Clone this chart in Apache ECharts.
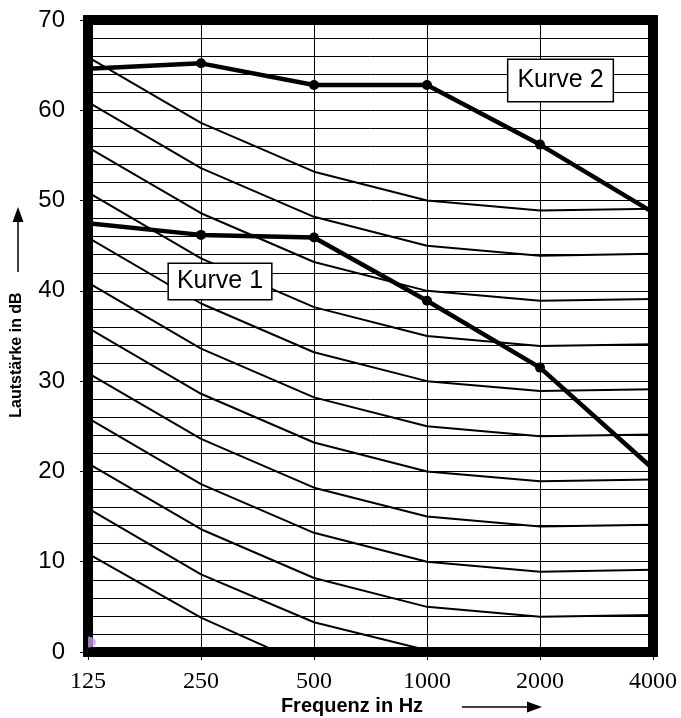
<!DOCTYPE html>
<html>
<head>
<meta charset="utf-8">
<script src="https://cdn.jsdelivr.net/npm/echarts@6/dist/echarts.min.js"></script>
<style>
html,body{margin:0;padding:0;background:#fff;}
#chart{width:681px;height:718px;}
</style>
</head>
<body>
<div id="chart"></div>
<script>
// Categories (frequency in Hz)
var frequencies = ['125', '250', '500', '1000', '2000', '4000'];

// Family of thin reference curves (dB)
var curve66 = [65.9, 58.6, 53.2, 50.0, 48.9, 49.1];
var curve61 = [60.9, 53.6, 48.2, 45.0, 43.9, 44.1];
var curve56 = [55.9, 48.6, 43.2, 40.0, 38.9, 39.1];
var curve51 = [50.9, 43.6, 38.2, 35.0, 33.9, 34.1];
var curve46 = [45.9, 38.6, 33.2, 30.0, 28.9, 29.1];
var curve41 = [40.9, 33.6, 28.2, 25.0, 23.9, 24.1];
var curve36 = [35.9, 28.6, 23.2, 20.0, 18.9, 19.1];
var curve31 = [30.9, 23.6, 18.2, 15.0, 13.9, 14.1];
var curve26 = [25.9, 18.6, 13.2, 10.0, 8.9, 9.1];
var curve21 = [20.9, 13.6, 8.2, 5.0, 3.9, 4.1];
var curve16 = [15.9, 8.6, 3.3, 0.2, -1.1, -0.9];
var curve11 = [10.9, 3.8, -1.8, -5.0, -6.1, -5.9];

// Highlighted measured curves (dB)
var kurve1 = [47.5, 46.2, 45.9, 38.9, 31.5, 20.3];
var kurve2 = [64.6, 65.2, 62.8, 62.8, 56.2, 48.7];

// Small stray marker at the lower-left corner
var strayMarker = [[0, 1.1]];

// Y axis range / label step
var yMin = 0, yMax = 70, yStep = 10;

var thinCurves = [curve66, curve61, curve56, curve51, curve46, curve41,
                  curve36, curve31, curve26, curve21, curve16, curve11];

var chart = echarts.init(document.getElementById('chart'), null, {renderer: 'canvas'});

var series = [];
thinCurves.forEach(function (c, i) {
  series.push({
    name: 'c' + i,
    type: 'line',
    data: c,
    symbol: 'none',
    smooth: false,
    clip: true,
    z: 3,
    lineStyle: {color: '#000', width: 2},
    silent: true
  });
});
function thick(name, arr) {
  return {
    name: name,
    type: 'line',
    data: arr.map(function (v, i) { return i === 0 ? {value: v, symbol: 'none'} : v; }),
    symbol: 'circle',
    symbolSize: 10,
    showAllSymbol: true,
    clip: false,
    z: 5,
    itemStyle: {color: '#000'},
    lineStyle: {color: '#000', width: 4.5}
  };
}
series.push(thick('Kurve 1', kurve1));
series.push(thick('Kurve 2', kurve2));
series.push({
  type: 'scatter',
  data: strayMarker,
  symbol: 'path://M0,0 A10,10 0 0,1 0,20 Z',
  symbolSize: [8, 11],
  symbolOffset: [4, 0],
  z: 10,
  clip: false,
  itemStyle: {color: '#c49bf6'}
});

var option = {
  backgroundColor: '#fff',
  animation: false,
  grid: {
    left: 88, right: 28, top: 20, bottom: 66,
    show: true, borderColor: '#000', borderWidth: 10, backgroundColor: 'transparent'
  },
  xAxis: {
    type: 'category',
    data: frequencies,
    boundaryGap: false,
    axisLine: {show: false},
    axisTick: {show: true, length: 8, lineStyle: {color: '#000'}},
    axisLabel: {
      margin: 18, color: '#000', fontSize: 24,
      fontFamily: '"Liberation Serif", "Times New Roman", serif'
    },
    splitLine: {show: true, lineStyle: {color: '#000', width: 1}}
  },
  yAxis: {
    type: 'value',
    min: yMin, max: yMax, interval: yStep,
    axisLine: {show: false},
    axisTick: {show: true, length: 8, lineStyle: {color: '#000'}},
    minorTick: {show: false, splitNumber: 5},
    minorSplitLine: {show: true, lineStyle: {color: '#000', width: 1}},
    axisLabel: {
      margin: 23, color: '#000', fontSize: 24,
      fontFamily: '"Liberation Sans", Arial, sans-serif'
    },
    splitLine: {show: true, lineStyle: {color: '#000', width: 1}}
  },
  series: series,
  graphic: [
    {
      type: 'text', z: 100,
      x: 17, y: 355, rotation: Math.PI / 2,
      style: {
        text: 'Lautstärke in dB', fill: '#000',
        font: 'bold 16px "Liberation Sans", Arial, sans-serif',
        align: 'center', verticalAlign: 'middle'
      }
    },
    {
      type: 'line', z: 100,
      shape: {x1: 18, y1: 272, x2: 18, y2: 218},
      style: {stroke: '#000', lineWidth: 1.5}
    },
    {
      type: 'polygon', z: 100,
      shape: {points: [[18, 207], [12.5, 222], [23.5, 222]]},
      style: {fill: '#000'}
    },
    {
      type: 'text', z: 100,
      x: 352, y: 706,
      style: {
        text: 'Frequenz in Hz', fill: '#000',
        font: 'bold 20px "Liberation Sans", Arial, sans-serif',
        align: 'center', verticalAlign: 'middle'
      }
    },
    {
      type: 'line', z: 100,
      shape: {x1: 462, y1: 707, x2: 530, y2: 707},
      style: {stroke: '#000', lineWidth: 1.5}
    },
    {
      type: 'polygon', z: 100,
      shape: {points: [[542, 707], [527, 701.5], [527, 712.5]]},
      style: {fill: '#000'}
    },
    {
      type: 'text', z: 100,
      x: 220, y: 281.5,
      style: {
        text: 'Kurve 1', fill: '#000',
        font: '25px "Liberation Sans", Arial, sans-serif',
        align: 'center', verticalAlign: 'middle',
        backgroundColor: '#fff', borderColor: '#000', borderWidth: 1.5,
        padding: [5, 8, 5, 8]
      }
    },
    {
      type: 'text', z: 100,
      x: 560.5, y: 80.5,
      style: {
        text: 'Kurve 2', fill: '#000',
        font: '25px "Liberation Sans", Arial, sans-serif',
        align: 'center', verticalAlign: 'middle',
        backgroundColor: '#fff', borderColor: '#000', borderWidth: 1.5,
        padding: [8, 9, 8, 9]
      }
    }
  ]
};
chart.setOption(option);
</script>
</body>
</html>
